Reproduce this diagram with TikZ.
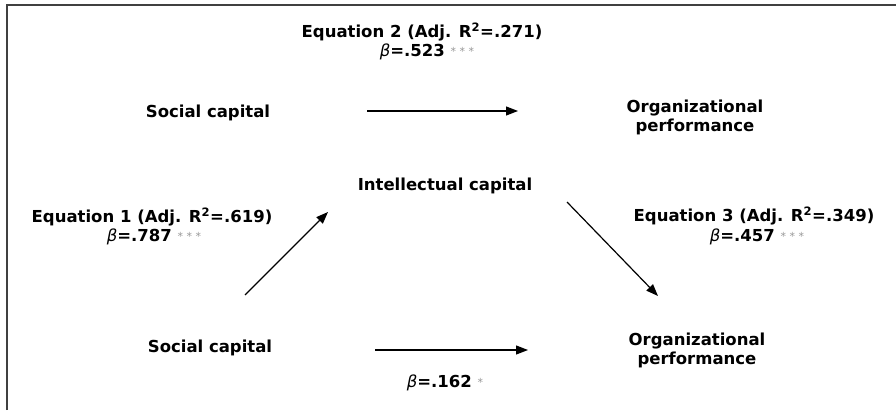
\documentclass[tikz,border=0pt]{standalone}
\usepackage{fontspec}
\setmainfont{DejaVu Sans}
\newfontfamily\greekfont{DejaVu Sans}
\usetikzlibrary{arrows.meta}
\tikzset{
  lbl/.style={font=\fontsize{16.5}{19}\selectfont\bfseries, align=center, inner sep=0pt},
  arr/.style={line width=1.2pt, -{Triangle[length=12pt,width=9pt]}},
  frame/.style={line width=1.4pt, draw=black!75}
}
\newcommand{\bet}{{\mdseries\itshape\greekfont β}}
\newcommand{\stars}[1]{\textcolor{black!40}{\fontsize{11}{12}\selectfont\mdseries\raisebox{1pt}{#1}}}
\begin{document}
\begin{tikzpicture}[x=1pt,y=1pt]
\useasboundingbox (0,0) rectangle (896,410);
\draw[frame] (7,0) -- (7,405) -- (896,405);

\node[lbl] (eq2) at (422,378) {Equation 2 (Adj. R\textsuperscript{2}=.271)};
\node[lbl] (b2) at (427,358) {\bet=.523 \stars{* * *}};

\node[lbl] (sc1) at (208,297) {Social capital};
\node[lbl] (op1) at (695,292.5) {Organizational\\performance};
\coordinate (a1s) at (367,299);
\coordinate (a1e) at (518,299);
\draw[arr] (a1s) -- (a1e);

\node[lbl] (ic) at (445,224) {Intellectual capital};

\node[lbl] (eq1) at (152,193) {Equation 1 (Adj. R\textsuperscript{2}=.619)};
\node[lbl] (b1) at (154,173) {\bet=.787 \stars{* * *}};
\coordinate (a2s) at (245,115);
\coordinate (a2e) at (328,198);
\draw[arr] (a2s) -- (a2e);

\coordinate (a3s) at (567,208);
\coordinate (a3e) at (658,114);
\draw[arr] (a3s) -- (a3e);
\node[lbl] (eq3) at (754,194) {Equation 3 (Adj. R\textsuperscript{2}=.349)};
\node[lbl] (b3) at (757,173) {\bet=.457 \stars{* * *}};

\node[lbl] (sc2) at (210,62) {Social capital};
\node[lbl] (op2) at (697,60) {Organizational\\performance};
\coordinate (a4s) at (375,60);
\coordinate (a4e) at (528,60);
\draw[arr] (a4s) -- (a4e);
\node[lbl] (b4) at (445,27) {\bet=.162 \stars{*}};
\end{tikzpicture}
\end{document}
